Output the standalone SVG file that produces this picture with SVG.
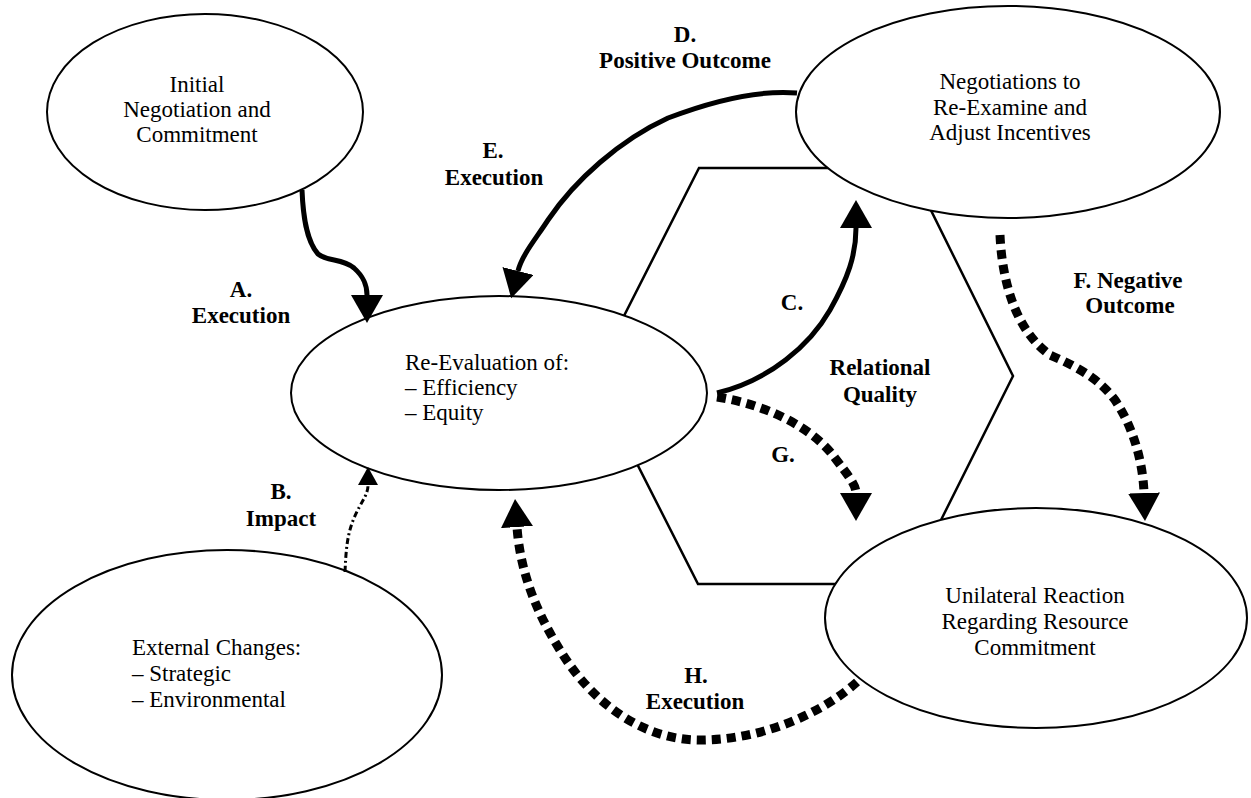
<svg xmlns="http://www.w3.org/2000/svg" width="1251" height="798" viewBox="0 0 1251 798">
<style>
.node{fill:#fff;stroke:#000;stroke-width:2}
.hex{fill:none;stroke:#000;stroke-width:2.5;stroke-linejoin:miter}
.t{font-family:"Liberation Serif","Times New Roman",serif;font-size:23px;fill:#000}
.c{text-anchor:middle}
.lbl{font-family:"Liberation Serif","Times New Roman",serif;font-size:23px;font-weight:bold;fill:#000;text-anchor:middle}
.solid{fill:none;stroke:#000;stroke-width:5;stroke-linecap:butt}
.dash{fill:none;stroke:#000;stroke-width:9;stroke-dasharray:9 6}
.dot{fill:none;stroke:#000;stroke-width:3;stroke-dasharray:6 3 2 3}
</style>
<defs>
<marker id="ah" markerUnits="userSpaceOnUse" markerWidth="30" markerHeight="34" refX="0" refY="16" orient="auto">
<path d="M0,0 L28,16 L0,32 Z" fill="#000"/>
</marker>
<marker id="ahs" markerUnits="userSpaceOnUse" markerWidth="20" markerHeight="22" refX="0" refY="10" orient="auto">
<path d="M0,0 L18,10 L0,20 Z" fill="#000"/>
</marker>
</defs>
<rect width="1251" height="798" fill="#fff"/>
<g id="relational-quality">
<polygon class="hex" points="699,168 910,168 1013,376 909,584 698,584 593,377"/>
<text class="lbl" x="880" y="375">Relational</text>
<text class="lbl" x="880" y="402">Quality</text>
</g>
<g id="initial-negotiation">
<ellipse class="node" cx="205" cy="112" rx="158" ry="98"/>
<text class="t c" x="197" y="92">Initial</text>
<text class="t c" x="197" y="117">Negotiation and</text>
<text class="t c" x="197" y="142">Commitment</text>
</g>
<g id="renegotiation">
<ellipse class="node" cx="1008" cy="112" rx="212" ry="106"/>
<text class="t c" x="1010" y="89">Negotiations to</text>
<text class="t c" x="1010" y="115">Re-Examine and</text>
<text class="t c" x="1010" y="140">Adjust Incentives</text>
</g>
<g id="re-evaluation">
<ellipse class="node" cx="499" cy="393" rx="208" ry="97"/>
<text class="t" x="405" y="370">Re-Evaluation of:</text>
<text class="t" x="405" y="395">– Efficiency</text>
<text class="t" x="405" y="420">– Equity</text>
</g>
<g id="external-changes">
<ellipse class="node" cx="227" cy="675" rx="215" ry="125"/>
<text class="t" x="132" y="655">External Changes:</text>
<text class="t" x="132" y="681">– Strategic</text>
<text class="t" x="132" y="707">– Environmental</text>
</g>
<g id="unilateral-reaction">
<ellipse class="node" cx="1036" cy="618" rx="211" ry="110"/>
<text class="t c" x="1035" y="603">Unilateral Reaction</text>
<text class="t c" x="1035" y="629">Regarding Resource</text>
<text class="t c" x="1035" y="655">Commitment</text>
</g>
<g id="connectors">
<path class="solid" marker-end="url(#ah)" d="M302,190 C303,215 306,240 318,254 C328,262 342,258 354,268 C364,277 367,285 367,295"/>
<path class="dot" marker-end="url(#ahs)" d="M345,572 C346,550 347,535 354,518 C362,500 368,495 368,485"/>
<path class="solid" marker-end="url(#ah)" d="M717,393 C770,380 810,345 830,310 C848,278 856,255 856,228"/>
<path class="solid" marker-end="url(#ah)" d="M797,93 C760,90 715,100 668,118 C620,140 575,180 548,220 C535,240 522,255 518,271"/>
<path class="dash" marker-end="url(#ah)" d="M1000,235 C1002,280 1015,330 1050,355 C1080,368 1100,380 1115,400 C1135,430 1143,465 1144,493"/>
<path class="dash" marker-end="url(#ah)" d="M717,397 C770,405 815,430 835,458 C848,475 856,485 856,493"/>
<path class="dash" marker-end="url(#ah)" d="M857,682 C820,715 760,740 700,740 C640,740 590,700 560,650 C535,610 520,570 517,527"/>
<g id="connector-labels">
<text class="lbl" x="241" y="297">A.</text>
<text class="lbl" x="241" y="323">Execution</text>
<text class="lbl" x="281" y="499">B.</text>
<text class="lbl" x="281" y="526">Impact</text>
<text class="lbl" x="792" y="310">C.</text>
<text class="lbl" x="685" y="42">D.</text>
<text class="lbl" x="685" y="68">Positive Outcome</text>
<text class="lbl" x="493" y="158">E.</text>
<text class="lbl" x="494" y="185">Execution</text>
<text class="lbl" x="1128" y="288">F. Negative</text>
<text class="lbl" x="1130" y="313">Outcome</text>
<text class="lbl" x="783" y="462">G.</text>
<text class="lbl" x="696" y="683">H.</text>
<text class="lbl" x="695" y="709">Execution</text>
</g>
</g>
</svg>
